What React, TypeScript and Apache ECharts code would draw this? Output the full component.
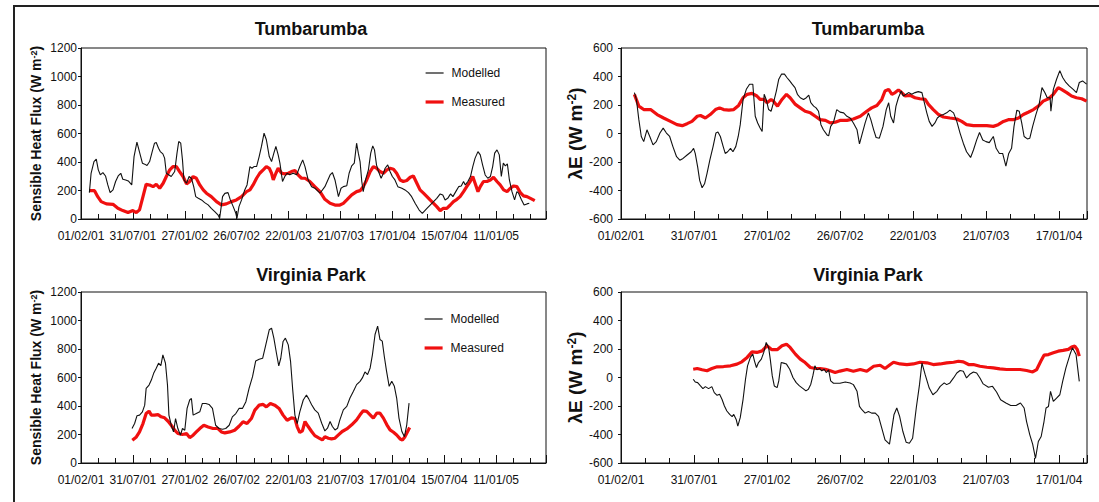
import { useEffect, useRef } from 'react';
import * as echarts from 'echarts';

// x values: days since 01/02/01 (tick labels are dd/mm/yy every 180 days)
const START_UTC = Date.UTC(2001, 1, 1);
const DAY_MS = 86400000;
const TICK_STEP_DAYS = 180;

const panelTitles = ['Tumbarumba', 'Tumbarumba', 'Virginia Park', 'Virginia Park'];
const seriesNames = ['Modelled', 'Measured'];

// Tumbarumba – sensible heat flux (W m-2)
const tumbSensModelled: [number, number][] = [
  [29,185],[35,321],[45,403],[53,420],[60,345],[67,310],[76,326],[85,302],[93,239],[101,185],[111,204],[120,263],[129,302],[138,321],[145,279],[155,274],[164,267],[176,239],[184,438],[194,540],[203,470],[213,392],[221,385],[229,375],[238,403],[247,473],[255,532],[261,537],[269,497],[275,473],[284,457],[290,427],[296,321],[313,298],[325,333],[333,462],[339,544],[346,532],[352,415],[357,274],[366,251],[375,298],[383,286],[391,227],[398,157],[407,146],[418,134],[429,115],[441,99],[452,75],[464,52],[475,29],[481,5],[491,157],[499,180],[510,185],[518,134],[528,87],[537,40],[541,5],[548,87],[557,134],[568,204],[576,239],[586,368],[593,356],[600,368],[609,368],[618,438],[626,509],[635,602],[643,556],[653,438],[661,403],[669,462],[676,509],[684,450],[690,392],[699,263],[707,298],[715,321],[724,310],[736,321],[748,310],[759,368],[769,415],[777,368],[788,274],[800,227],[811,216],[829,181],[846,227],[864,309],[872,326],[881,274],[893,157],[902,216],[910,227],[922,234],[930,321],[939,373],[948,392],[956,532],[962,462],[968,403],[974,263],[979,192],[987,274],[997,345],[1005,462],[1012,513],[1018,485],[1025,380],[1032,333],[1041,286],[1049,321],[1055,356],[1064,380],[1072,333],[1080,298],[1089,274],[1099,227],[1113,216],[1124,204],[1136,185],[1147,157],[1159,110],[1173,63],[1184,40],[1200,75],[1217,110],[1234,145],[1246,176],[1255,169],[1263,134],[1272,145],[1282,176],[1290,157],[1300,192],[1310,227],[1319,232],[1327,263],[1333,239],[1342,263],[1351,298],[1359,368],[1367,427],[1377,473],[1385,450],[1393,380],[1402,309],[1411,286],[1420,298],[1428,368],[1435,462],[1443,485],[1451,450],[1458,298],[1465,392],[1472,373],[1479,387],[1486,274],[1495,192],[1504,134],[1512,192],[1518,181],[1527,139],[1537,98],[1547,106],[1555,110]
];
const tumbSensMeasured: [number, number][] = [
  [29,199],[47,199],[58,157],[70,122],[88,106],[111,103],[128,75],[145,59],[163,45],[180,59],[192,45],[203,64],[215,157],[226,244],[238,239],[250,227],[261,244],[273,216],[285,251],[296,298],[308,345],[319,368],[331,368],[342,333],[354,298],[366,246],[377,263],[389,298],[400,286],[412,239],[424,204],[435,181],[452,157],[470,122],[487,99],[504,106],[522,122],[539,134],[557,157],[574,192],[586,204],[597,239],[609,286],[620,321],[632,345],[643,368],[653,356],[661,321],[667,274],[676,321],[684,356],[696,321],[707,317],[719,321],[730,333],[742,340],[753,310],[765,286],[777,286],[794,263],[811,227],[829,192],[846,138],[864,110],[881,98],[898,98],[910,110],[922,134],[939,169],[956,192],[968,199],[979,227],[991,274],[1003,333],[1014,368],[1026,356],[1037,333],[1049,321],[1061,345],[1072,356],[1084,349],[1095,321],[1107,274],[1118,263],[1130,270],[1142,293],[1153,302],[1165,251],[1176,204],[1188,181],[1200,157],[1211,134],[1223,110],[1234,87],[1246,59],[1257,75],[1269,75],[1281,98],[1292,122],[1304,138],[1315,157],[1327,192],[1338,227],[1350,263],[1359,298],[1367,251],[1377,192],[1385,227],[1396,263],[1408,263],[1420,274],[1431,293],[1443,263],[1454,239],[1466,204],[1478,192],[1489,216],[1501,232],[1512,227],[1524,185],[1535,162],[1547,157],[1559,145],[1574,129]
];

// Tumbarumba – latent heat flux λE (W m-2)
const tumbLatModelled: [number, number][] = [
  [33,287],[38,239],[44,97],[50,-21],[56,-57],[64,26],[71,-21],[79,-80],[87,-57],[96,3],[104,38],[112,3],[120,-21],[128,-92],[137,-163],[145,-187],[153,-175],[163,-151],[173,-128],[179,-104],[183,-140],[189,-234],[194,-329],[200,-381],[206,-353],[212,-281],[219,-187],[227,-92],[234,3],[239,10],[245,-21],[252,-92],[257,-140],[263,-128],[270,-104],[276,-128],[283,-92],[289,-21],[294,62],[301,239],[309,310],[317,346],[325,346],[331,121],[337,74],[343,38],[348,14],[353,275],[358,239],[364,168],[370,156],[376,216],[383,298],[389,381],[396,417],[403,417],[409,393],[416,369],[422,346],[429,322],[435,275],[442,251],[450,239],[457,251],[463,270],[468,216],[475,192],[481,180],[487,156],[493,62],[499,26],[508,-10],[512,-16],[517,50],[524,79],[532,168],[540,150],[549,145],[557,121],[565,109],[573,74],[582,26],[588,-73],[594,-9],[602,74],[610,145],[616,97],[623,26],[629,-28],[637,-33],[646,50],[654,168],[660,216],[665,121],[672,74],[678,192],[684,251],[691,298],[696,263],[703,275],[709,287],[717,275],[725,287],[733,294],[742,287],[747,227],[754,145],[760,85],[767,50],[774,74],[780,109],[787,126],[795,133],[803,145],[811,164],[820,145],[828,85],[836,3],[844,-68],[852,-128],[862,-168],[869,-116],[877,-45],[884,7],[892,-45],[900,-57],[908,-64],[918,-21],[925,-104],[933,-140],[941,-140],[949,-229],[956,-140],[963,-104],[969,50],[976,164],[982,156],[988,74],[994,-21],[1002,-38],[1008,-33],[1015,50],[1023,133],[1031,204],[1038,322],[1045,287],[1051,251],[1058,251],[1060,156],[1066,310],[1074,381],[1082,441],[1089,393],[1097,358],[1105,334],[1115,310],[1123,287],[1130,358],[1138,369],[1148,346]
];
const tumbLatMeasured: [number, number][] = [
  [33,275],[44,192],[56,168],[73,168],[89,133],[105,109],[122,85],[138,62],[151,55],[163,69],[175,85],[188,121],[196,126],[208,109],[220,133],[233,168],[243,180],[253,168],[266,164],[278,168],[290,197],[301,251],[311,275],[323,282],[335,263],[343,239],[353,239],[360,216],[370,239],[376,227],[386,192],[397,239],[408,275],[417,251],[430,204],[442,180],[454,156],[467,145],[479,121],[491,97],[504,92],[516,74],[528,79],[540,92],[557,92],[573,102],[590,121],[606,156],[618,180],[631,197],[643,239],[651,298],[660,310],[668,275],[676,287],[684,306],[692,287],[701,263],[713,268],[725,251],[737,244],[750,239],[758,204],[770,168],[783,133],[795,116],[811,109],[828,102],[840,85],[852,62],[869,55],[885,55],[902,55],[918,50],[930,62],[943,85],[955,97],[967,97],[980,109],[992,133],[1004,149],[1017,168],[1029,192],[1041,227],[1054,244],[1066,275],[1078,322],[1086,310],[1099,287],[1111,263],[1123,251],[1136,244],[1148,227]
];

// Virginia Park – sensible heat flux (W m-2)
const virgSensModelled: [number, number][] = [
  [177,242],[186,277],[194,331],[203,336],[213,359],[221,406],[226,524],[236,547],[244,582],[252,629],[261,665],[269,700],[277,683],[284,759],[293,700],[300,547],[305,336],[313,265],[321,218],[328,312],[336,242],[345,195],[352,242],[360,230],[368,383],[377,442],[383,453],[389,336],[400,347],[412,359],[421,418],[433,418],[444,411],[456,383],[467,265],[479,242],[491,237],[502,242],[514,265],[525,324],[537,347],[548,383],[560,383],[572,430],[583,524],[595,606],[606,716],[618,728],[630,735],[641,829],[653,935],[661,946],[669,876],[678,770],[686,681],[693,735],[701,853],[709,876],[719,829],[727,711],[734,524],[742,336],[750,277],[759,359],[771,442],[782,477],[790,450],[800,409],[811,373],[823,350],[835,279],[846,225],[855,244],[864,291],[872,256],[881,232],[890,244],[898,303],[910,373],[922,397],[933,456],[945,503],[956,550],[968,573],[976,597],[985,639],[994,620],[1003,667],[1011,761],[1020,902],[1029,961],[1037,867],[1045,855],[1052,749],[1060,643],[1069,538],[1078,573],[1087,538],[1095,456],[1103,315],[1113,221],[1122,185],[1130,268],[1138,420]
];
const virgSensMeasured: [number, number][] = [
  [178,160],[192,183],[203,218],[215,277],[226,347],[236,364],[244,336],[255,336],[267,340],[278,324],[290,317],[302,293],[313,265],[325,230],[336,207],[352,200],[366,207],[377,178],[389,195],[400,218],[412,242],[426,265],[441,253],[458,242],[475,242],[487,218],[499,211],[516,218],[533,230],[548,258],[562,289],[576,277],[591,312],[603,371],[618,406],[632,411],[643,394],[657,418],[672,406],[687,383],[701,336],[715,300],[730,317],[742,312],[750,254],[759,214],[768,225],[777,291],[788,256],[800,221],[811,192],[823,178],[837,162],[846,185],[858,174],[869,169],[881,174],[893,197],[906,221],[922,239],[939,268],[956,303],[968,338],[979,366],[991,362],[1003,338],[1014,315],[1026,350],[1037,350],[1049,315],[1061,268],[1072,232],[1084,216],[1095,197],[1107,169],[1115,162],[1124,185],[1133,221],[1140,249]
];

// Virginia Park – latent heat flux λE (W m-2)
const virgLatModelled: [number, number][] = [
  [178,-12],[183,-31],[189,-36],[196,-59],[202,-78],[208,-64],[216,-78],[224,-64],[230,-106],[237,-125],[243,-118],[249,-153],[255,-200],[261,-235],[268,-259],[274,-275],[278,-259],[284,-294],[288,-341],[294,-282],[301,-153],[307,-12],[312,82],[319,141],[325,164],[329,117],[334,70],[339,105],[346,129],[352,176],[358,246],[364,211],[368,129],[373,11],[378,-59],[385,-71],[389,-24],[395,105],[401,101],[408,94],[416,58],[424,0],[432,-36],[440,-59],[449,-78],[456,-94],[462,-83],[468,-47],[473,11],[478,82],[483,54],[490,63],[495,47],[501,58],[506,35],[512,54],[517,-24],[524,-40],[532,-40],[540,-40],[553,-31],[565,-38],[573,-50],[582,-97],[588,-203],[594,-226],[602,-250],[610,-238],[618,-250],[627,-250],[635,-273],[643,-355],[651,-438],[662,-468],[668,-355],[673,-262],[680,-214],[687,-273],[695,-379],[703,-454],[711,-461],[719,-426],[728,-214],[736,-50],[742,102],[750,20],[760,-74],[769,-121],[779,-97],[787,-62],[797,-38],[803,-50],[811,-38],[820,-3],[828,32],[836,49],[844,44],[852,-3],[861,25],[869,39],[877,32],[885,-3],[893,-45],[906,-69],[916,-62],[926,-102],[936,-156],[949,-179],[961,-196],[974,-196],[985,-179],[994,-214],[1000,-309],[1008,-402],[1015,-468],[1022,-567],[1029,-449],[1036,-414],[1043,-309],[1048,-214],[1054,-203],[1059,-97],[1066,-168],[1074,-144],[1082,-121],[1089,-27],[1097,67],[1107,161],[1113,208],[1122,161],[1130,-27]
];
const virgLatMeasured: [number, number][] = [
  [178,58],[188,63],[200,54],[212,47],[224,63],[237,75],[253,77],[270,82],[286,94],[298,110],[311,141],[323,180],[335,176],[348,187],[360,223],[372,195],[385,195],[397,223],[408,234],[417,211],[430,164],[442,129],[454,105],[467,70],[479,63],[491,63],[504,58],[516,47],[528,35],[540,45],[557,56],[573,44],[590,56],[606,44],[623,79],[639,86],[651,63],[664,91],[672,107],[688,95],[705,91],[721,95],[737,107],[754,103],[770,91],[787,95],[803,103],[820,107],[832,114],[844,110],[857,91],[869,91],[885,79],[902,72],[918,67],[934,60],[951,56],[967,56],[984,56],[1000,49],[1015,39],[1025,56],[1035,114],[1043,157],[1054,161],[1066,173],[1078,185],[1090,190],[1103,197],[1111,213],[1119,220],[1125,197],[1130,150]
];

const sensYTicks = { min: 0, max: 1200, interval: 200 };
const latYTicks = { min: -600, max: 600, interval: 200 };
const sensXMaxDays = 1613;
const latXMaxDays = 1149;

const FONT = '"Liberation Sans", Arial, Helvetica, sans-serif';
const INK = '#111';
const RED = '#f01010';

const pad2 = (n: number) => String(n).padStart(2, '0');
const formatDay = (v: number) => {
  const r = Math.round(v);
  if (r % TICK_STEP_DAYS !== 0) return '';
  const d = new Date(START_UTC + r * DAY_MS);
  return `${pad2(d.getUTCDate())}/${pad2(d.getUTCMonth() + 1)}/${pad2(d.getUTCFullYear() % 100)}`;
};

export default function App() {
  const ref = useRef<HTMLDivElement>(null);

  useEffect(() => {
    if (!ref.current) return;
    const chart = echarts.init(ref.current, undefined, { renderer: 'svg' });

    const grids = [
      { left: 81, top: 48, width: 465, height: 171 },
      { left: 621, top: 48, width: 466, height: 171 },
      { left: 81, top: 292, width: 465, height: 171 },
      { left: 621, top: 292, width: 466, height: 171 },
    ];
    const titleCenters = [[311, 29], [868, 29], [311, 275], [868, 275]];

    const xAxis = grids.map((_, i) => ({
      type: 'value',
      gridIndex: i,
      min: 0,
      max: i % 2 === 0 ? sensXMaxDays : latXMaxDays,
      interval: TICK_STEP_DAYS,
      axisLine: { show: true, onZero: false, lineStyle: { color: INK, width: 1 } },
      axisTick: { show: true, inside: true, length: 8, lineStyle: { color: INK, width: 1 } },
      minorTick: { show: true, splitNumber: 3, length: 5, lineStyle: { color: INK, width: 1 } },
      splitLine: { show: false },
      minorSplitLine: { show: false },
      axisLabel: { formatter: formatDay, margin: 11, fontSize: 12, color: INK, fontFamily: FONT },
    }));

    const sensName = '{a|Sensible Heat Flux (W m}{b|-2}{a|)}';
    const latName = '{a|λE (W m}{b|-2}{a|)}';

    const yAxis = grids.map((_, i) => {
      const sens = i % 2 === 0;
      const t = sens ? sensYTicks : latYTicks;
      return {
        type: 'value',
        gridIndex: i,
        min: t.min,
        max: t.max,
        interval: t.interval,
        axisLine: { show: true, lineStyle: { color: INK, width: 1 } },
        axisTick: { show: true, length: 3, lineStyle: { color: INK } },
        splitLine: { show: false },
        axisLabel: { formatter: (v: number) => String(v), margin: sens ? 4 : 8, fontSize: 12, color: INK, fontFamily: FONT },
        name: sens ? sensName : latName,
        nameLocation: 'middle',
        nameRotate: 90,
        nameGap: sens ? 38 : 35,
        nameTextStyle: {
          rich: sens
            ? {
                a: { fontSize: 14, fontWeight: 'bold', fontFamily: FONT, color: INK },
                b: { fontSize: 9, fontWeight: 'bold', fontFamily: FONT, color: INK, verticalAlign: 'top' },
              }
            : {
                a: { fontSize: 19, fontWeight: 'bold', fontFamily: FONT, color: INK },
                b: { fontSize: 12, fontWeight: 'bold', fontFamily: FONT, color: INK, verticalAlign: 'top' },
              },
        },
      };
    });

    const panelData = [
      [tumbSensModelled, tumbSensMeasured],
      [tumbLatModelled, tumbLatMeasured],
      [virgSensModelled, virgSensMeasured],
      [virgLatModelled, virgLatMeasured],
    ];

    const series: any[] = [];
    panelData.forEach(([mod, meas], i) => {
      series.push({
        name: seriesNames[1],
        type: 'line',
        xAxisIndex: i,
        yAxisIndex: i,
        data: meas,
        symbol: 'none',
        lineStyle: { color: RED, width: 3.2 },
        itemStyle: { color: RED },
        z: 2,
      });
      series.push({
        name: seriesNames[0],
        type: 'line',
        xAxisIndex: i,
        yAxisIndex: i,
        data: mod,
        symbol: 'none',
        lineStyle: { color: INK, width: 1.1 },
        itemStyle: { color: INK },
        z: 3,
      });
    });

    const legendItems = [
      { name: seriesNames[0], icon: 'line', itemStyle: { color: INK, borderColor: INK, borderWidth: 1.2 } },
      { name: seriesNames[1], icon: 'line', itemStyle: { color: RED, borderColor: RED, borderWidth: 3.2 } },
    ];
    const legendBase = {
      orient: 'vertical',
      itemWidth: 18,
      itemHeight: 12,
      itemGap: 17,
      selectedMode: false,
      textStyle: { fontSize: 12, color: INK, fontFamily: FONT, padding: [0, 0, 0, 3] },
      data: legendItems,
    };

    const graphic: any[] = [
      {
        type: 'polyline',
        silent: true,
        z: 100,
        shape: { points: [[14, 520], [14, 6], [1110, 6]] },
        style: { stroke: '#222', lineWidth: 2, fill: null },
      },
      ...panelTitles.map((t, i) => ({
        type: 'text',
        x: titleCenters[i][0],
        y: titleCenters[i][1],
        silent: true,
        style: {
          text: t,
          fontSize: 18,
          fontWeight: 'bold',
          fontFamily: FONT,
          fill: INK,
          align: 'center',
          verticalAlign: 'middle',
        },
      })),
    ];

    chart.setOption({
      animation: false,
      backgroundColor: '#fff',
      grid: grids.map((g) => ({ ...g, containLabel: false, outerBoundsMode: 'none', show: true, borderColor: INK, borderWidth: 1, backgroundColor: 'transparent' })),
      xAxis,
      yAxis,
      series,
      legend: [
        { ...legendBase, left: 419, top: 62 },
        { ...legendBase, left: 418, top: 308 },
      ],
      graphic,
    });

    return () => chart.dispose();
  }, []);

  return (
    <div style={{ position: 'absolute', left: 0, top: 0, width: 1099, height: 502 }}>
      <div ref={ref} style={{ width: 1099, height: 502 }} />
    </div>
  );
}
